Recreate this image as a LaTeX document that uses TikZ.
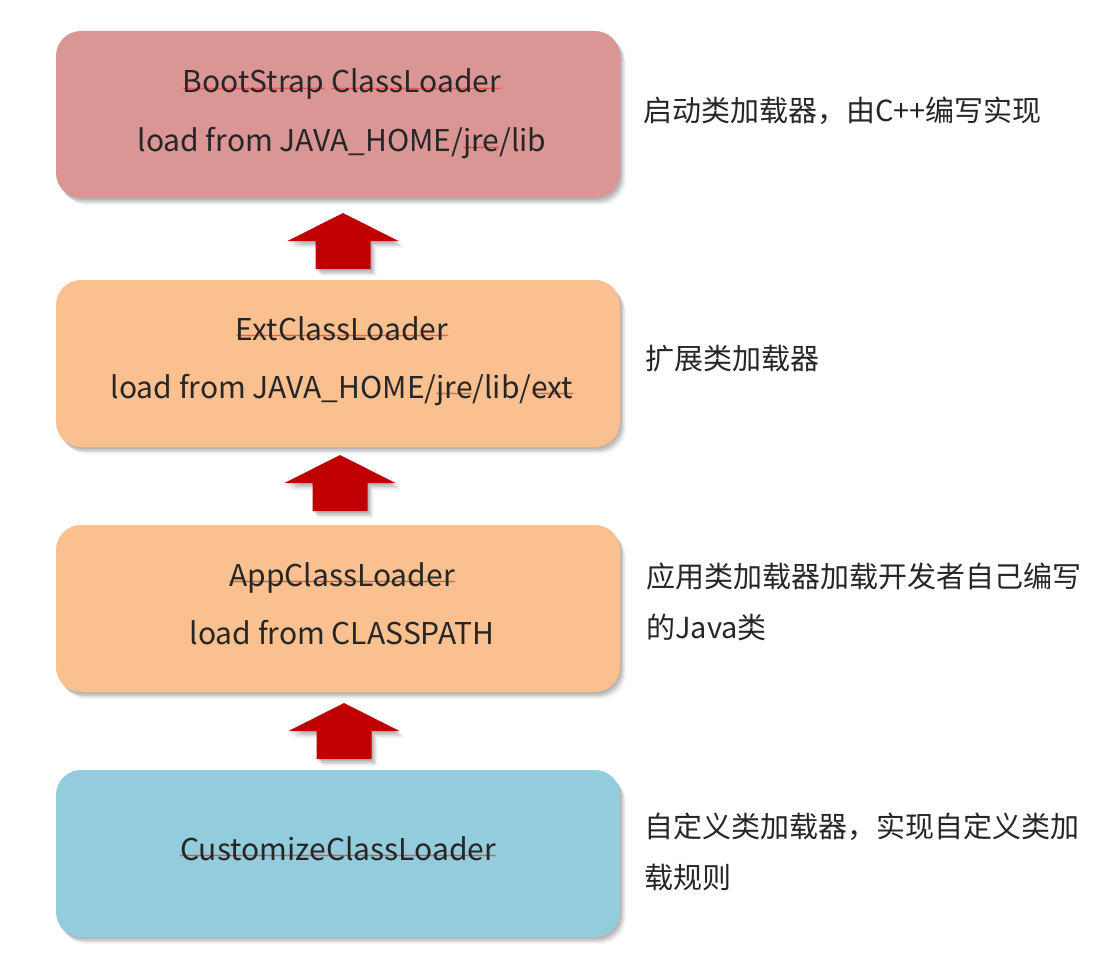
\documentclass[tikz,border=0pt]{standalone}
\usepackage{fontspec}
\setmainfont{Noto Sans CJK SC}
\usetikzlibrary{shadows,calc,decorations.pathmorphing}
\definecolor{bootc}{HTML}{D99694}
\definecolor{extc}{HTML}{FAC090}
\definecolor{custc}{HTML}{93CDDD}
\definecolor{arrc}{HTML}{C00000}
\definecolor{txtc}{HTML}{262626}
\newlength\sqw
\newcommand\sqwave[1]{\settowidth\sqw{#1}\leavevmode\rlap{\tikz[x=1pt,y=1pt,baseline={(0,4.5)}]\draw[red!85!white,line width=0.45pt,decorate,decoration={zigzag,segment length=2.5pt,amplitude=0.7pt}](0,0)--(\sqw,0);}#1}
\tikzset{
  softshadow/.style={
    drop shadow={shadow xshift=1.5pt,shadow yshift=-2pt,fill=black,opacity=0.10},
    drop shadow={shadow xshift=3pt,shadow yshift=-4pt,fill=black,opacity=0.10},
    drop shadow={shadow xshift=4.5pt,shadow yshift=-5.5pt,fill=black,opacity=0.07},
    drop shadow={shadow xshift=6pt,shadow yshift=-7pt,fill=black,opacity=0.04}},
  loaderbox/.style={rounded corners=25pt,minimum width=564pt,minimum height=167pt,inner sep=0pt,draw=none,softshadow},
  boxtext/.style={anchor=base,inner sep=0pt,text=txtc,font=\fontsize{30}{36}\selectfont},
  note/.style={anchor=base west,inner sep=0pt,text=txtc,font=\fontsize{29}{34}\selectfont},
  uparrow/.pic={\fill[arrc,softshadow] (0,0) -- (55.5,28) -- (27.5,28) -- (27.5,56) -- (-27.5,56) -- (-27.5,28) -- (-55.5,28) -- cycle;}
}
\begin{document}
\begin{tikzpicture}[x=1pt,y=-1pt]
\path[use as bounding box,fill=white] (0,0) rectangle (1117,955);
% boxes
\node[loaderbox,fill=bootc] (b1) at (338,114.5) {};
\node[loaderbox,fill=extc]  (b2) at (338,363.5) {};
\node[loaderbox,fill=extc]  (b3) at (338,608.5) {};
\node[loaderbox,fill=custc] (b4) at (338,853.5) {};
% arrows
\pic (a1) at (343,213) {uparrow};
\pic (a2) at (340,455) {uparrow};
\pic (a3) at (344,703) {uparrow};
% box texts
\node[boxtext] (t1a) at (342,93) {\sqwave{BootStrap} \sqwave{ClassLoader}};
\node[boxtext] (t1b) at (342,152) {load from JAVA\_HOME/\sqwave{jre}/lib};
\node[boxtext] (t2a) at (342,340) {\sqwave{ExtClassLoader}};
\node[boxtext] (t2b) at (342,398) {load from JAVA\_HOME/\sqwave{jre}/lib/\sqwave{ext}};
\node[boxtext] (t3a) at (342,586) {\sqwave{AppClassLoader}};
\node[boxtext] (t3b) at (342,644) {load from CLASSPATH};
\node[boxtext] (t4a) at (338,860) {\sqwave{CustomizeClassLoader}};
% notes
\node[note] (n1) at (643,122) {启动类加载器，由C++编写实现};
\node[note] (n2) at (645,369) {扩展类加载器};
\node[note] (n3a) at (646,587) {应用类加载器加载开发者自己编写};
\node[note] (n3b) at (646,638) {的Java类};
\node[note] (n4a) at (644,837) {自定义类加载器，实现自定义类加};
\node[note] (n4b) at (644,888) {载规则};
\end{tikzpicture}
\end{document}
